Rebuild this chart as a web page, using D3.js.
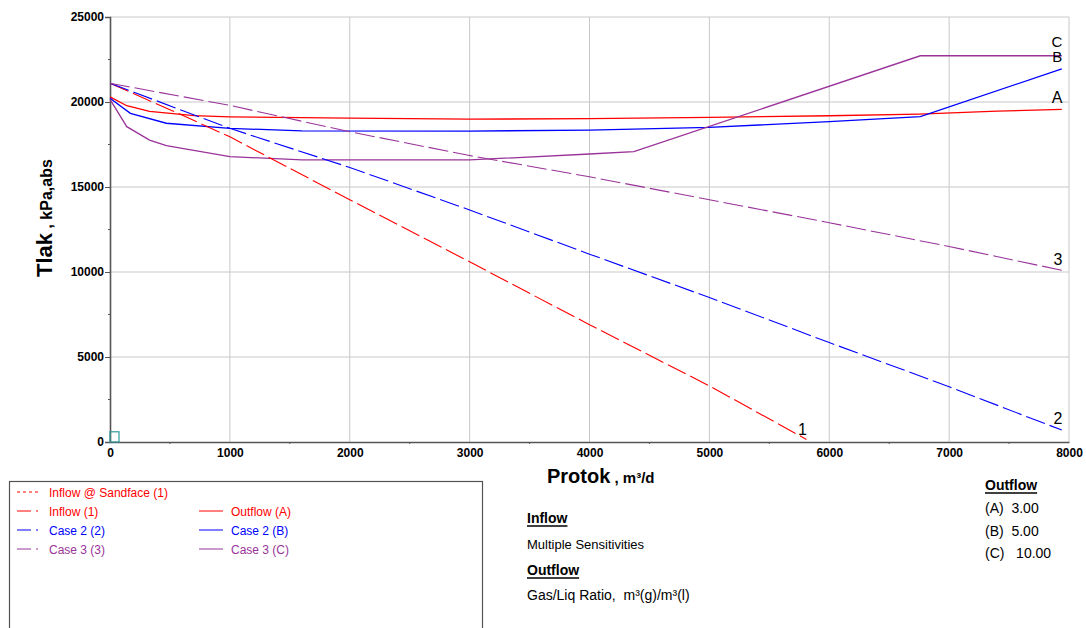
<!DOCTYPE html>
<html><head><meta charset="utf-8">
<script src="https://cdn.jsdelivr.net/npm/d3@7"></script>
<style>body{margin:0;background:#fff;} text{font-family:Arial,"Liberation Sans",sans-serif;}</style>
</head><body><svg id="c" width="1086" height="628"></svg>
<script>
// ---- data ----
const xTicks = [0,1000,2000,3000,4000,5000,6000,7000,8000];
const yTicks = [0,5000,10000,15000,20000,25000];
const inflow1 = [[0,21100],[500,19550],[1000,17950],[1500,16100],[2000,14250],[3000,10600],[4000,6900],[5000,3300],[5810,150]];
const inflow2 = [[0,21100],[1000,18450],[2000,16150],[3000,13650],[4000,11050],[5000,8500],[6000,5850],[7000,3250],[7940,700]];
const inflow3 = [[0,21100],[1000,19800],[2000,18250],[3000,16850],[4000,15600],[5000,14250],[6000,12900],[7000,11500],[7940,10100]];
const outflowA = [[0,20300],[140,19780],[330,19450],[700,19200],[1000,19130],[2000,19050],[3000,18990],[4000,19020],[5000,19100],[6000,19190],[6750,19290],[7400,19460],[7940,19570]];
const outflowB = [[0,20220],[170,19330],[470,18750],[1000,18450],[1600,18300],[3000,18290],[4000,18350],[5000,18510],[6000,18840],[6760,19140],[7940,21950]];
const outflowC = [[0,20150],[140,18550],[330,17760],[470,17430],[1000,16790],[1600,16590],[3000,16590],[4000,16940],[4370,17080],[6760,22720],[7940,22720]];
const marker = [[0,0],[75,600]];
const curveLabels = [["1",5810,412,16],["2",7940,1059,16],["3",7940,10412,16],["A",7940,19959,16],["B",7940,22330,15],["C",7940,23250,15]];
const legendLeft = [["Inflow @ Sandface (1)","#ff0000","3,3"],["Inflow (1)","#ff0000","14,5,2,5"],["Case 2 (2)","#0000ff","14,5,2,5"],["Case 3 (3)","#993399","14,5,2,5"]];
const legendRight = [["Outflow (A)","#ff0000"],["Case 2 (B)","#0000ff"],["Case 3 (C)","#993399"]];
const outflowValues = [["(A)","3.00"],["(B)","5.00"],["(C)","\u00a010.00"]];

const svg = d3.select("#c");
const x = d3.scaleLinear().domain([0,8000]).range([110,1069]);
const y = d3.scaleLinear().domain([0,25000]).range([442,17]);

// grid
const g = svg.append("g");
g.selectAll(".vg").data(xTicks.slice(1)).join("line")
  .attr("x1",d=>x(d)).attr("x2",d=>x(d)).attr("y1",y(0)).attr("y2",y(25000))
  .attr("stroke","#c8c8c8").attr("stroke-width",1);
g.selectAll(".hg").data(yTicks.slice(1)).join("line")
  .attr("x1",x(0)).attr("x2",x(8000)).attr("y1",d=>y(d)).attr("y2",d=>y(d))
  .attr("stroke","#c8c8c8").attr("stroke-width",1);

// axes
const yAxis = d3.axisLeft(y).tickValues(yTicks).tickSize(5).tickFormat(d3.format("d"));
const ya = svg.append("g").attr("transform",`translate(${x(0)},0)`).call(yAxis);
const xAxis = d3.axisBottom(x).tickValues(xTicks).tickSize(0).tickPadding(6).tickFormat(d3.format("d"));
const xa = svg.append("g").attr("transform",`translate(0,${y(0)})`).call(xAxis);
[ya,xa].forEach(a=>{
  a.select(".domain").attr("stroke","#555").attr("stroke-width",1.6);
  a.selectAll(".tick line").attr("stroke","#555");
  a.selectAll("text").attr("font-size",12).attr("font-weight","bold").attr("fill","#000")
   .attr("font-family","Arial, 'Liberation Sans', sans-serif");
});
ya.selectAll("text").attr("x",-6);
// minor ticks
svg.append("g").selectAll("line").data(d3.range(2500,25000,5000)).join("line")
  .attr("x1",x(0)-2).attr("x2",x(0)).attr("y1",d=>y(d)).attr("y2",d=>y(d)).attr("stroke","#555");
svg.append("g").selectAll("line").data(d3.range(500,8000,1000)).join("line")
  .attr("x1",d=>x(d)).attr("x2",d=>x(d)).attr("y1",y(0)).attr("y2",y(0)+2).attr("stroke","#555");

// marker
svg.append("rect").attr("x",x(marker[0][0])).attr("y",y(marker[1][1]))
  .attr("width",x(marker[1][0])-x(marker[0][0])).attr("height",y(0)-y(marker[1][1]))
  .attr("fill","none").attr("stroke","#2e9a9a").attr("stroke-width",1.2);

// curves
const line = d3.line().x(d=>x(d[0])).y(d=>y(d[1]));
const curves = [
  [outflowA,"#ff0000",null,1.3],[outflowB,"#0000ff",null,1.3],[outflowC,"#993399",null,1.3],
  [inflow1,"#ff0000","20,5",1.1],[inflow2,"#0000ff","20,5",1.1],[inflow3,"#993399","20,5",1.1]
];
svg.append("g").selectAll("path").data(curves).join("path")
  .attr("d",d=>line(d[0])).attr("fill","none").attr("stroke",d=>d[1])
  .attr("stroke-width",d=>d[3]).attr("stroke-dasharray",d=>d[2]);

svg.append("g").selectAll("text").data(curveLabels).join("text")
  .attr("x",d=>x(d[1])+0.5).attr("y",d=>y(d[2])).attr("text-anchor","end")
  .attr("font-size",d=>d[3]).text(d=>d[0]);

// axis titles
const yt = svg.append("text").attr("transform","translate(52,277) rotate(-90)").attr("font-weight","bold");
yt.append("tspan").attr("font-size",22).text("Tlak");
yt.append("tspan").attr("font-size",16).text(" , kPa,abs");
const xt = svg.append("text").attr("x",547).attr("y",483).attr("font-weight","bold");
xt.append("tspan").attr("font-size",20).text("Protok");
xt.append("tspan").attr("font-size",15).text(" , m³/d");

// legend box
svg.append("rect").attr("x",9.5).attr("y",481.5).attr("width",473).attr("height",160)
  .attr("fill","none").attr("stroke","#555").attr("stroke-width",1.2);
const lg = svg.append("g");
legendLeft.forEach((d,i)=>{
  const yy = 492 + i*19;
  lg.append("line").attr("x1",17).attr("x2",41).attr("y1",yy).attr("y2",yy)
    .attr("stroke",d[1]).attr("stroke-dasharray",d[2]);
  lg.append("text").attr("x",49).attr("y",yy+4.5).attr("font-size",12).attr("fill",d[1]).text(d[0]);
});
legendRight.forEach((d,i)=>{
  const yy = 511 + i*19;
  lg.append("line").attr("x1",199).attr("x2",223).attr("y1",yy).attr("y2",yy).attr("stroke",d[1]);
  lg.append("text").attr("x",231).attr("y",yy+4.5).attr("font-size",12).attr("fill",d[1]).text(d[0]);
});

// info text
function ul(xx,yy,t){
  const tx = svg.append("text").attr("x",xx).attr("y",yy).attr("font-size",14).attr("font-weight","bold").text(t);
  const w = tx.node().getComputedTextLength();
  svg.append("line").attr("x1",xx).attr("x2",xx+w).attr("y1",yy+3).attr("y2",yy+3).attr("stroke","#000").attr("stroke-width",1.3);
}
ul(527,523,"Inflow");
svg.append("text").attr("x",527).attr("y",549).attr("font-size",13).text("Multiple Sensitivities");
ul(527,575,"Outflow");
svg.append("text").attr("x",527).attr("y",600).attr("font-size",14).text("Gas/Liq Ratio,\u00a0\u00a0m³(g)/m³(l)");
ul(985,490,"Outflow");
outflowValues.forEach((d,i)=>{
  svg.append("text").attr("x",985).attr("y",513+i*22.5).attr("font-size",14)
    .text(d[0]+"\u00a0\u00a0"+d[1]);
});
</script></body></html>
